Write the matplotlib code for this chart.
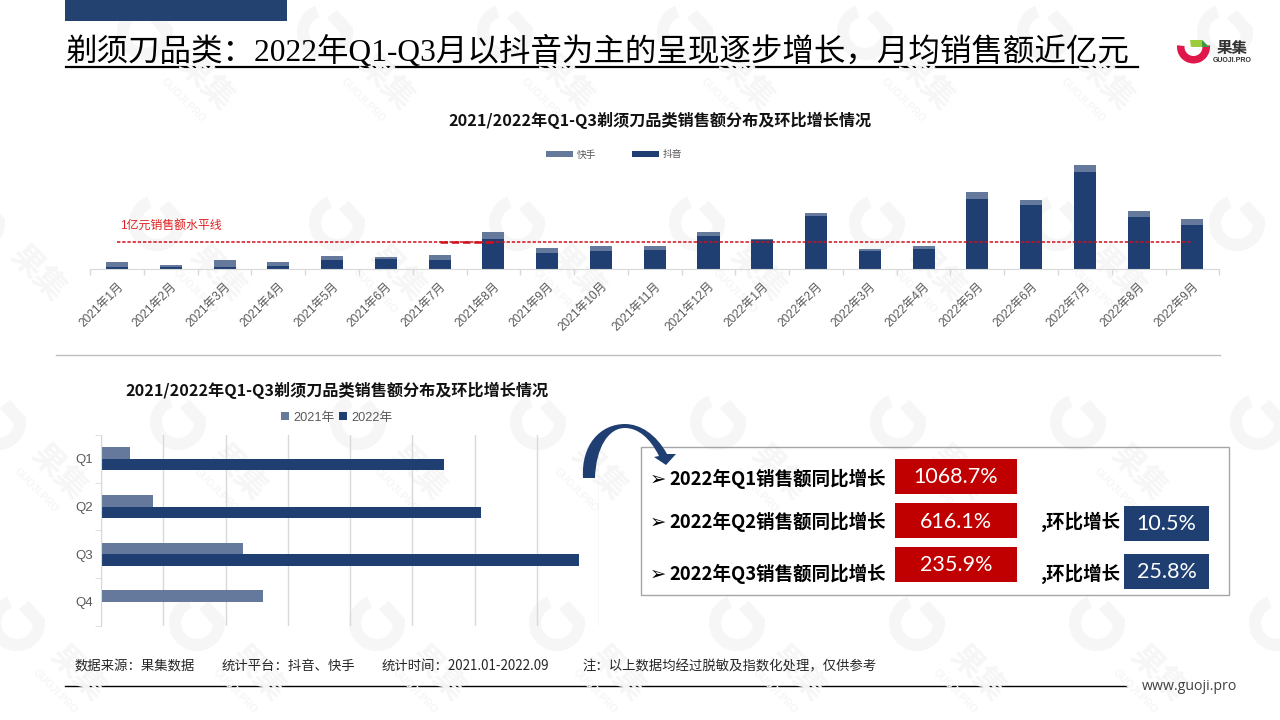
import numpy as np
import matplotlib
matplotlib.use('Agg')
import matplotlib.pyplot as plt
from matplotlib.patches import Rectangle, Wedge, PathPatch, Polygon
from matplotlib.path import Path

CJK = ['Noto Sans CJK SC', 'DejaVu Sans']
plt.rcParams['font.family'] = ['Liberation Sans', 'Noto Sans CJK SC', 'DejaVu Sans']

months = ['2021年%d月' % m for m in range(1, 13)] + ['2022年%d月' % m for m in range(1, 10)]
douyin = [.08, .08, .08, .12, .34, .37, .34, 1.10, .59, .66, .70, 1.20, 1.07, 1.93, .66, .73, 2.54, 2.33, 3.52, 1.89, 1.60]
kuaishou = [.18, .07, .25, .14, .14, .07, .18, .25, .18, .18, .14, .14, .02, .11, .07, .11, .25, .18, .25, .22, .22]
level = [1.0] * len(months)
quarters = ['Q1', 'Q2', 'Q3', 'Q4']
sales_2021 = [0.465, 0.832, 2.278, 2.60]
sales_2022 = [5.51, 6.106, 7.68, 0]
yoy = ['1068.7%', '616.1%', '235.9%']
qoq = ['10.5%', '25.8%']

DARK = '#1F3F73'
LIGHT = '#64799B'
RED = '#C00000'
GREY = '#595959'
AXC = '#D9D9D9'
W, H = 1280, 720

fig = plt.figure(figsize=(12.8, 7.2), dpi=100, facecolor='white')

def pix_axes(x0, y0, x1, y1, z):
    a = fig.add_axes([x0 / W, 1 - y1 / H, (x1 - x0) / W, (y1 - y0) / H], zorder=z)
    a.patch.set_alpha(0)
    return a

bg = pix_axes(0, 0, W, H, 0)
bg.set_xlim(0, W); bg.set_ylim(H, 0); bg.axis('off')

# watermark tiles
WM = '#F6F6F6'
rows = [(32, -35, 180), (223, 157, 180), (422, -2, 180), (623, 17, 180)]
for gy, gx0, pitch in rows:
    for k in range(-1, 9):
        gx = gx0 + k * pitch
        bg.add_patch(Wedge((gx, gy), 28, -10, 250, width=12, color=WM, lw=0))
        bg.add_patch(Polygon([(gx + 2, gy - 14), (gx + 12, gy - 22), (gx + 28, gy - 4), (gx + 16, gy + 2)], color=WM, lw=0))
        tx, ty = gx + 60, gy + 50
        if 32 < tx < W - 32:
            bg.text(tx, ty, '果集', rotation=-45, color=WM, fontsize=23, fontweight='bold', family=CJK,
                    ha='center', va='center', rotation_mode='anchor')
        sx, sy = gx + 38, gy + 68
        if 26 < sx < W - 26 and sy + 26 < H:
            bg.text(sx, sy, 'GUOJI.PRO', rotation=-45, color=WM, fontsize=7.5, fontweight='bold',
                    ha='center', va='center', rotation_mode='anchor')

# header
bg.add_patch(Rectangle((65, 0), 222, 21, color='#24426F', lw=0))
bg.text(66, 52, '剃须刀品类：2022年Q1-Q3月以抖音为主的呈现逐步增长，月均销售额近亿元',
        family=['Liberation Serif', 'Noto Sans CJK SC'], fontsize=22.7, color='black', ha='left', va='center')
bg.plot([66, 1138], [67, 67], color='black', lw=1.6)

# logo
bg.add_patch(Wedge((1193.5, 47), 16.5, -6, 186, width=7.5, color='#E0174A', lw=0))
bg.add_patch(Polygon([(1190, 40), (1202, 40), (1209, 47), (1191, 47)], color='#9CCB3B', lw=0))
bg.add_patch(Polygon([(1202, 40), (1209, 47), (1202, 47)], color='#3A9A45', lw=0))
bg.text(1232.5, 48, '果集', family=CJK, fontsize=11.2, fontweight='bold', color='#333333', ha='center', va='center')
bg.text(1232.5, 61, 'GUOJI.PRO', fontsize=5, fontweight='bold', color='#333333', ha='center', va='center')

# dividers and footer
bg.plot([56, 1220], [355, 355], color='#BFBFBF', lw=1)
bg.plot([65, 1127], [686, 686], color='black', lw=1)
for x, t in [(75, '数据来源：果集数据'), (222, '统计平台：抖音、快手'),
             (382, '统计时间：2021.01-2022.09'), (582, '注：以上数据均经过脱敏及指数化处理，仅供参考')]:
    bg.text(x, 666, t, family=CJK, fontsize=9.6, color='#262626', ha='left', va='center')
bg.text(1237, 686, 'www.guoji.pro', family='Open Sans', fontsize=10.2, color='#404040', ha='right', va='center')

# --- top chart
ax = pix_axes(90.2, 158, 1219.3, 269.3, 1)
x = np.arange(len(months))
ax.bar(x, douyin, 0.41, color=DARK, label='抖音', zorder=2)
ax.bar(x, kuaishou, 0.41, bottom=douyin, color=LIGHT, label='快手', zorder=2)
ax.plot(x, level, color='#D0101C', lw=1.1, ls=(0, (2.2, 1.2)), zorder=3)
ax.plot(x[6:8], level[6:8], color='#D0101C', lw=1.8, ls=(0, (3, 1.5)), zorder=3)
ax.set_xlim(-0.5, 20.5)
ax.set_ylim(0, 111.3 / 27.67)
for s in ['top', 'left', 'right']:
    ax.spines[s].set_visible(False)
ax.spines['bottom'].set_color(AXC)
ax.set_yticks([])
ax.set_xticks(x)
ax.set_xticklabels(months, rotation=45, ha='right', va='top', rotation_mode='anchor', fontsize=8.6, color=GREY)
ax.tick_params(axis='x', which='major', length=0, pad=8)
ax.set_xticks(np.arange(-0.5, 21), minor=True)
ax.tick_params(axis='x', which='minor', length=4, color=AXC, width=1)
h, l = ax.get_legend_handles_labels()
ax.legend([h[1], h[0]], [l[1], l[0]], ncol=2, loc='center', bbox_to_anchor=(614 / W, 1 - 154.5 / H),
          bbox_transform=fig.transFigure, frameon=False, fontsize=7, labelcolor=GREY,
          handlelength=2.75, handleheight=0.5, handletextpad=0.4, columnspacing=3.7, borderpad=0, borderaxespad=0)
bg.text(120, 226, '1亿元销售额水平线', fontsize=8.6, color='#E02020', ha='left', va='center')
bg.text(659.5, 120, '2021/2022年Q1-Q3剃须刀品类销售额分布及环比增长情况', family=CJK, fontsize=11.6, fontweight='bold',
        color='#111111', ha='center', va='center')

# --- bottom chart
ax2 = pix_axes(101, 435, 599, 625.7, 1)
y = np.arange(len(quarters))
bh = 0.24
ax2.barh(y - bh / 2, sales_2021, bh, color=LIGHT, label='2021年', zorder=2)
ax2.barh(y + bh / 2, sales_2022, bh, color=DARK, label='2022年', zorder=2)
ax2.set_xlim(0, 8)
ax2.set_ylim(3.5, -0.5)
ax2.set_xticks(np.arange(0, 9))
ax2.set_xticklabels([])
ax2.tick_params(axis='x', length=0)
ax2.grid(axis='x', color=AXC, lw=1, zorder=0)
for s in ['top', 'bottom', 'right']:
    ax2.spines[s].set_visible(False)
ax2.spines['left'].set_color(AXC)
ax2.set_yticks(y)
ax2.set_yticklabels(quarters, fontsize=9.5, color=GREY)
ax2.tick_params(axis='y', which='major', length=0, pad=6)
ax2.set_yticks(np.arange(-0.5, 4), minor=True)
ax2.tick_params(axis='y', which='minor', length=4, color=AXC)
ax2.legend(ncol=2, loc='center', bbox_to_anchor=(336.5 / W, 1 - 417.5 / H), bbox_transform=fig.transFigure,
           frameon=False, fontsize=9.2, labelcolor=GREY, handlelength=0.62, handleheight=0.62,
           handletextpad=0.35, columnspacing=0.35, borderpad=0, borderaxespad=0)
bg.text(336.5, 390, '2021/2022年Q1-Q3剃须刀品类销售额分布及环比增长情况', family=CJK, fontsize=11.6, fontweight='bold',
        color='#111111', ha='center', va='center')

# --- right panel
top = pix_axes(0, 0, W, H, 2)
top.set_xlim(0, W); top.set_ylim(H, 0); top.axis('off')
top.add_patch(Rectangle((640.5, 446.7), 588, 148.6, fc='none', ec='#A6A6A6', lw=1))
labels = ['2022年Q1销售额同比增长', '2022年Q2销售额同比增长', '2022年Q3销售额同比增长']
for t, v, ty, by, vy in zip(labels, yoy, [479, 522, 574], [459, 503, 547], [476.7, 521.7, 565]):
    top.text(658, ty, '➢', family='DejaVu Sans', fontsize=14, color='black', ha='center', va='center')
    top.text(669, ty, t, family=CJK, fontsize=13.3, fontweight='bold', color='black', ha='left', va='center')
    top.add_patch(Rectangle((895, by), 122, 34.7, color=RED, lw=0))
    top.text(956, vy, v, family='Lato', fontsize=15.5, color='white', ha='center', va='center')
for v, ty, by, vy in zip(qoq, [522, 574], [506, 554], [524, 571.7]):
    top.text(1041, ty, ',环比增长', family=CJK, fontsize=13.3, fontweight='bold', color='black', ha='left', va='center')
    top.add_patch(Rectangle((1124, by), 85, 34.7, color=DARK, lw=0))
    top.text(1166.5, vy, v, family='Lato', fontsize=15.5, color='white', ha='center', va='center')

verts = [(583, 478), (581, 445), (600, 424), (625, 424),
         (640, 424), (656, 434), (667, 454),
         (676, 454), (666, 465), (654, 457), (659, 456),
         (650, 438), (638, 428), (625, 428),
         (608, 428), (596, 448), (595, 478), (583, 478)]
codes = [Path.MOVETO, Path.CURVE4, Path.CURVE4, Path.CURVE4,
         Path.CURVE4, Path.CURVE4, Path.CURVE4,
         Path.LINETO, Path.LINETO, Path.LINETO, Path.LINETO,
         Path.CURVE4, Path.CURVE4, Path.CURVE4,
         Path.CURVE4, Path.CURVE4, Path.CURVE4, Path.CLOSEPOLY]
top.add_patch(PathPatch(Path(verts, codes), fc=DARK, ec='none'))

fig.savefig('out.png', dpi=100)
